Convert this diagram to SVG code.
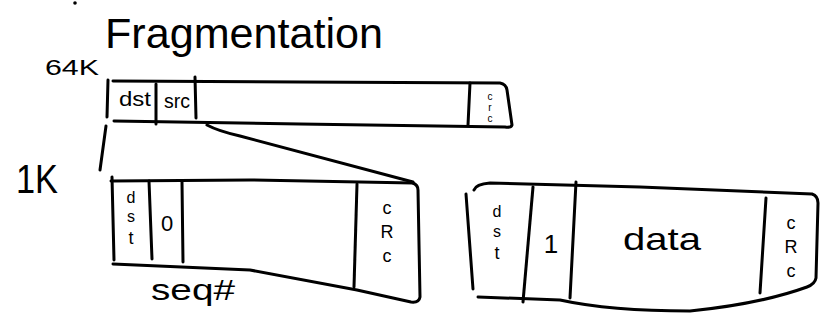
<svg xmlns="http://www.w3.org/2000/svg" width="823" height="320" viewBox="0 0 823 320">
<style>
.s{fill:none;stroke:#000;stroke-width:3;stroke-linecap:round;stroke-linejoin:round}
.t{font-family:"Liberation Sans",Arial,sans-serif;fill:#000;text-anchor:middle}
</style>
<rect width="823" height="320" fill="#fff"/>
<circle cx="75" cy="3" r="1.8" fill="#000"/>
<g id="title">
<text class="t" x="244" y="48" font-size="42" textLength="278" lengthAdjust="spacingAndGlyphs">Fragmentation</text>
</g>
<g id="label-64k">
<text class="t" x="72" y="75" font-size="22" textLength="54" lengthAdjust="spacingAndGlyphs">64K</text>
</g>
<g id="label-1k">
<text class="t" x="37" y="193" font-size="40" textLength="42" lengthAdjust="spacingAndGlyphs">1K</text>
</g>
<g id="packet-64k">
<path class="s" d="M113,81 L300,82 L500,83 Q506,84 507,90 L512,125 Q511,128 505,127 L300,124 L114,121"/>
<path class="s" d="M108,80 L107,117"/>
<path class="s" d="M156,84 L156,124"/>
<path class="s" d="M195,77 L196,118"/>
<path class="s" d="M470,83 L468,125"/>
<text class="t" x="135" y="106" font-size="20" textLength="32" lengthAdjust="spacingAndGlyphs">dst</text>
<text class="t" x="177" y="108" font-size="20" textLength="26" lengthAdjust="spacingAndGlyphs">src</text>
<text class="t" x="490" y="100" font-size="10">c</text>
<text class="t" x="490" y="111" font-size="10">r</text>
<text class="t" x="490" y="122" font-size="10">c</text>
</g>
<g id="connectors">
<path class="s" d="M106,126 L100,170"/>
<path class="s" d="M207,125 Q218,131 240,136 L413,182"/>
</g>
<g id="fragment-0">
<path class="s" d="M111,181 L250,180 L413,183"/>
<path class="s" d="M112,177 L114,260"/>
<path class="s" d="M149,181 L152,259"/>
<path class="s" d="M182,182 L183,262"/>
<path class="s" d="M357,184 L354,287"/>
<path class="s" d="M413,183 Q418,185 418,190 L420,297 Q419,303 411,302 L357,290 L250,270 L113,264"/>
<text class="t" x="131" y="203" font-size="16">d</text>
<text class="t" x="131" y="222" font-size="16">s</text>
<text class="t" x="131" y="244" font-size="18">t</text>
<text class="t" x="167" y="231" font-size="22">0</text>
<text class="t" x="387" y="214" font-size="18">c</text>
<text class="t" x="387" y="238" font-size="18">R</text>
<text class="t" x="387" y="262" font-size="18">c</text>
</g>
<g id="label-seq">
<text class="t" x="193" y="300" font-size="30" textLength="84" lengthAdjust="spacingAndGlyphs">seq#</text>
</g>
<g id="fragment-1">
<path class="s" d="M474,190 Q476,184 490,183 L640,187 L812,194 Q818,196 818,203 L816,278 Q815,284 807,287 Q760,304 690,311 Q610,311 560,300 L478,297"/>
<path class="s" d="M466,194 L473,289"/>
<path class="s" d="M533,187 L523,302"/>
<path class="s" d="M576,182 L570,298"/>
<path class="s" d="M766,198 L760,293"/>
<text class="t" x="497" y="217" font-size="16">d</text>
<text class="t" x="497" y="237" font-size="16">s</text>
<text class="t" x="497" y="259" font-size="18">t</text>
<text class="t" x="551" y="253" font-size="26">1</text>
<text class="t" x="662" y="250" font-size="32" textLength="78" lengthAdjust="spacingAndGlyphs">data</text>
<text class="t" x="791" y="229" font-size="18">c</text>
<text class="t" x="791" y="253" font-size="18">R</text>
<text class="t" x="791" y="277" font-size="18">c</text>
</g>
</svg>
